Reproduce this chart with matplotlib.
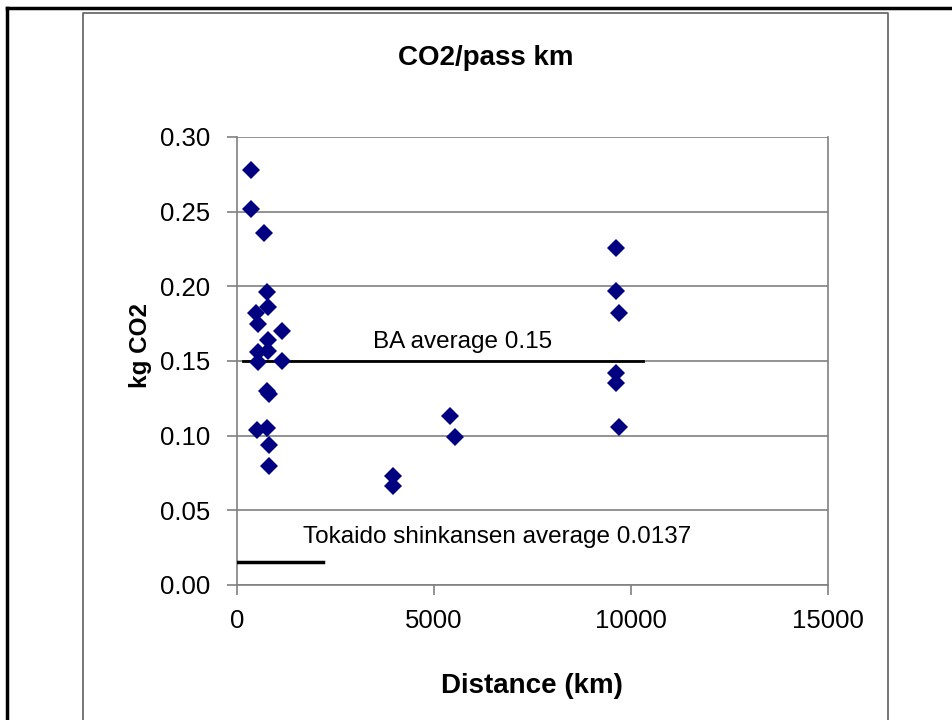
import matplotlib
matplotlib.use("Agg")
import matplotlib.pyplot as plt
from matplotlib.lines import Line2D

# distance (km) and kg CO2 per passenger km
distance = [348, 348, 685, 754, 795, 475, 525, 1150, 795, 795,
            525, 525, 1150, 754, 810, 500, 754, 812, 812,
            3967, 3967, 5406, 5533,
            9611, 9611, 9695, 9611, 9611, 9704]
co2 = [0.278, 0.252, 0.236, 0.196, 0.186, 0.182, 0.175, 0.170, 0.164, 0.157,
       0.156, 0.149, 0.150, 0.130, 0.128, 0.104, 0.105, 0.094, 0.080,
       0.073, 0.066, 0.113, 0.099,
       0.226, 0.197, 0.182, 0.142, 0.135, 0.106]

ba_x = [150, 10300]
ba_y = [0.15, 0.15]
ba_label = "BA average 0.15"
tokaido_x = [25, 2180]
tokaido_y = [0.0155, 0.0155]
tokaido_label = "Tokaido shinkansen average 0.0137"

x_ticks = [0, 5000, 10000, 15000]
y_ticks = [0.00, 0.05, 0.10, 0.15, 0.20, 0.25, 0.30]

plt.rcParams["font.family"] = ["Liberation Sans", "DejaVu Sans"]

W, H = 953, 720
fig = plt.figure(figsize=(W / 100, H / 100), dpi=100)
ax = fig.add_axes([237 / W, 1 - 585 / H, (828 - 237) / W, (585 - 137) / H])

# outer frames (black page edge and grey chart frame)
fig.add_artist(Line2D([7 / W, 7 / W], [0, 1 - 8 / H], color="black", lw=2.5))
fig.add_artist(Line2D([7 / W, 1], [1 - 8 / H, 1 - 8 / H], color="black", lw=2.5))
fig.add_artist(Line2D([83 / W, 83 / W, 888 / W, 888 / W], [0, 1 - 13 / H, 1 - 13 / H, 0],
                      color="#606060", lw=1.2))

ax.set_xlim(0, 15000)
ax.set_ylim(0, 0.30)
ax.set_xticks(x_ticks)
ax.set_yticks(y_ticks)
ax.set_yticklabels([f"{v:.2f}" for v in y_ticks])
ax.yaxis.grid(True, color="#808080", lw=1.2)
ax.set_axisbelow(True)
for side in ["left", "bottom", "right"]:
    ax.spines[side].set_color("#808080")
    ax.spines[side].set_linewidth(1.2)
ax.spines["top"].set_visible(False)
ax.tick_params(axis="both", labelsize=18.5, colors="#808080", labelcolor="black",
               length=7, width=1.2, direction="out")
ax.tick_params(axis="y", pad=12)
ax.tick_params(axis="x", pad=10)

ax.plot(ba_x, ba_y, color="black", lw=2, zorder=3)
ax.plot(tokaido_x, tokaido_y, color="black", lw=2.5, zorder=3)
ax.plot(distance, co2, "D", color="#000080", markersize=9, markeredgewidth=0, zorder=4)

ax.text(3440, 0.159, ba_label, fontsize=17.5, ha="left", va="baseline")
ax.text(1675, 0.0283, tokaido_label, fontsize=17.5, ha="left", va="baseline")

fig.text(486 / W, 1 - 58 / H, "CO2/pass km", fontsize=20, fontweight="bold",
         ha="center", va="center")
fig.text(532 / W, 1 - 686 / H, "Distance (km)", fontsize=20, fontweight="bold",
         ha="center", va="center")
fig.text(141 / W, 1 - 345 / H, "kg CO2", fontsize=17.5, fontweight="bold",
         ha="center", va="center", rotation=90)

fig.savefig("out.png", dpi=100)
